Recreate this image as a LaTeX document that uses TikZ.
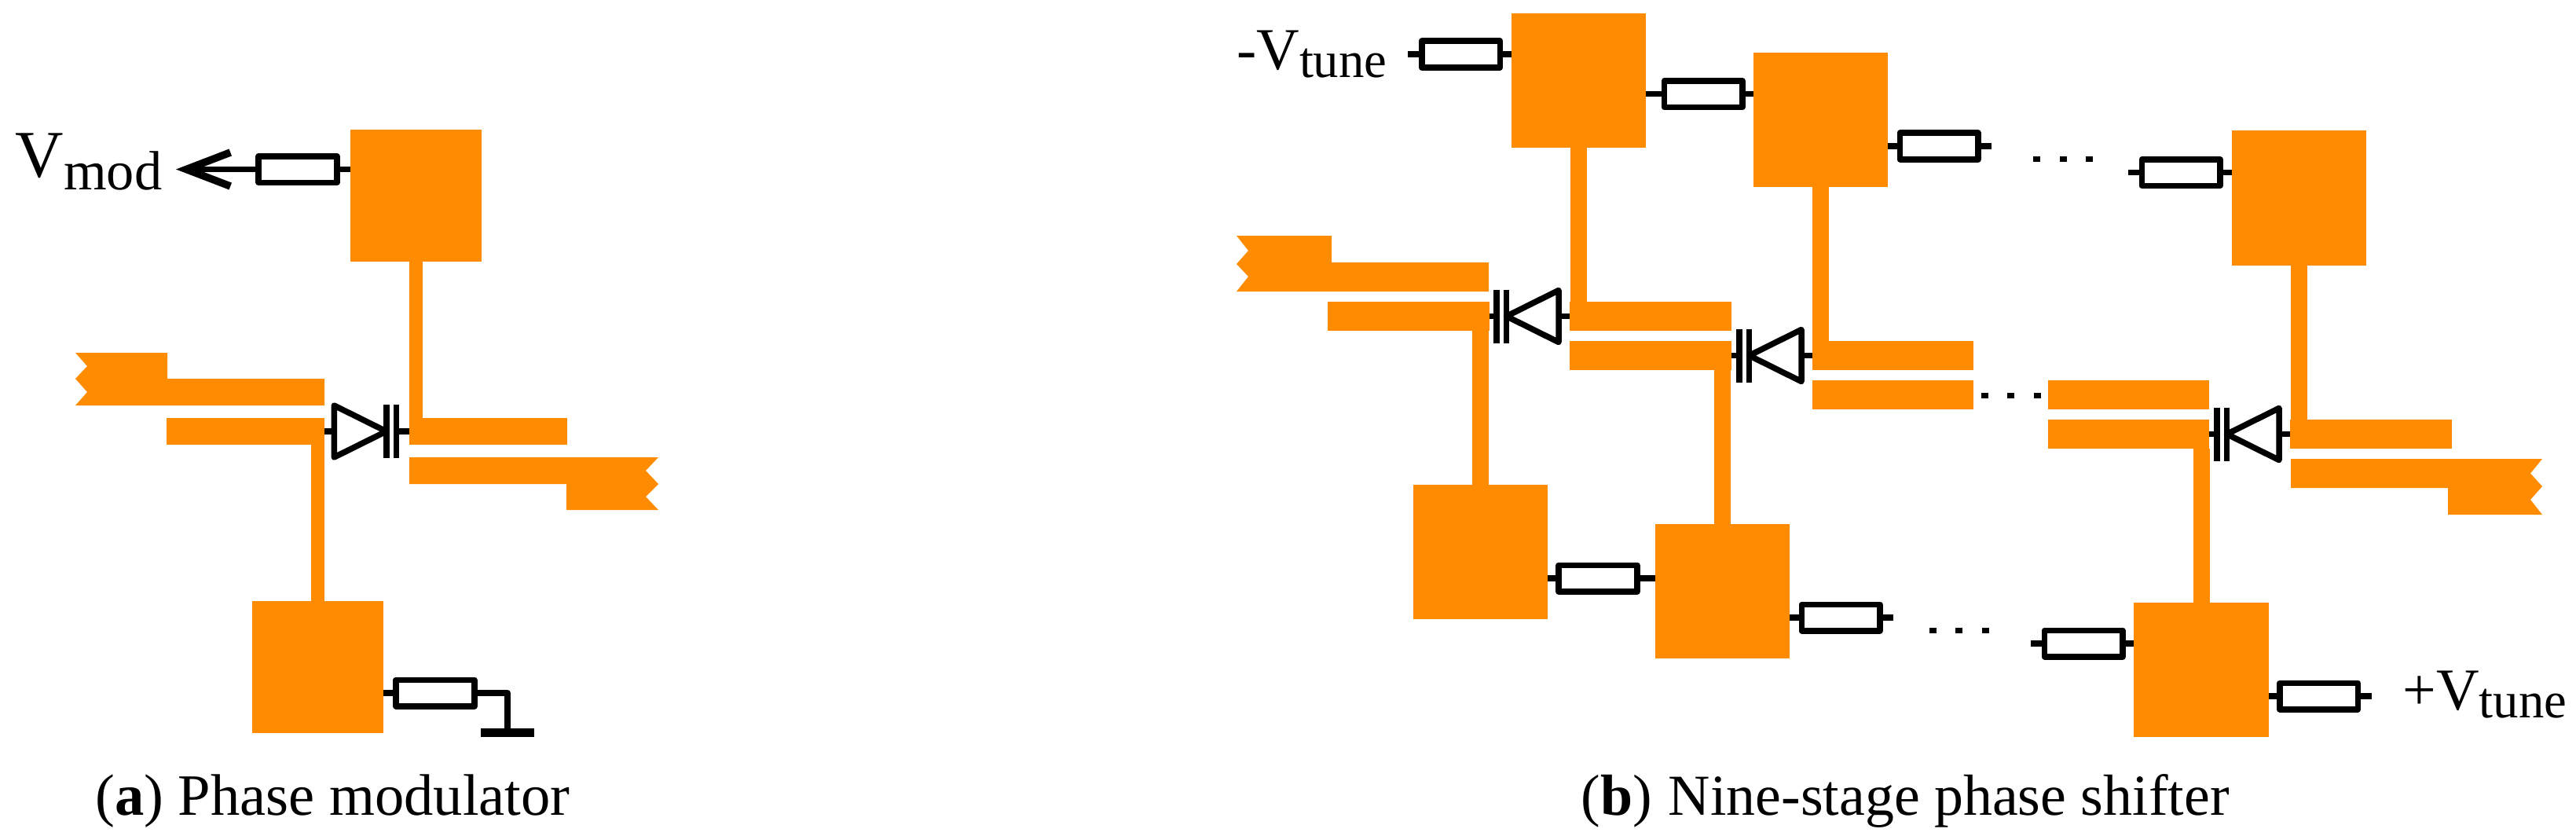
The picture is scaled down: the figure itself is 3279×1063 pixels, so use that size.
\documentclass[tikz,border=0pt]{standalone}
\usepackage{fontspec}
\setmainfont{Liberation Serif}
\usetikzlibrary{arrows.meta,positioning,calc}
\definecolor{padorange}{RGB}{255,140,0}

\tikzset{
    padbase/.style={fill=padorange, inner sep=0pt, outer sep=0pt},
    padsmall/.style={padbase, minimum width=1.67cm, minimum height=1.68cm},
    padlarge/.style={padbase, minimum width=1.71cm, minimum height=1.71cm},
    stripsmall/.style={padbase, minimum width=2.01cm, minimum height=0.34cm},
    striplarge/.style={padbase, minimum width=2.05cm, minimum height=0.37cm},
    stemsmall/.style={draw=padorange, line width=0.17cm},
    stemlarge/.style={draw=padorange, line width=0.21cm},
    wire/.style={draw=black, line width=0.075cm},
    resbox/.style={draw=black, fill=white, line width=0.075cm, line join=round, inner sep=0pt, outer sep=0.0375cm, minimum width=0.995cm, minimum height=0.335cm},
    gndbar/.style={fill=black, inner sep=0pt, outer sep=0pt, minimum width=0.68cm, minimum height=0.11cm},
    biglabel/.style={anchor=base west, inner sep=0pt, font=\fontsize{21.5}{24}\selectfont},
    caption/.style={anchor=base west, inner sep=0pt, font=\fontsize{21.2}{25}\selectfont}
}

% diode: name, x, y, direction (1 = pointing right, -1 = pointing left)
\newcommand{\diode}[4]{
    \begin{scope}[shift={(#2,#3)}, xscale=#4]
        \draw[wire, line join=round] (-39.5,-33) -- (27,0) -- (-39.5,33) -- cycle;
        \draw[wire] (27,-34) -- (27,34);
        \draw[wire] (39.5,-34) -- (39.5,34);
        \coordinate (#1-base) at (-39.5,0);
        \coordinate (#1-plate) at (39.5,0);
    \end{scope}
}
% three dots
\newcommand{\threedots}[2]{
    \foreach \dx in {0,33.5,67} {
        \fill ({#1+\dx-4.5},{#2-3.5}) rectangle +(9,7);
    }
}

\begin{document}
\begin{tikzpicture}[x=0.01cm, y=-0.01cm]
    \path[use as bounding box] (0,0) rectangle (3279,1063);

    % (a) pads and strips
    \node[padsmall] (padA) at (529.5,249) {};
    \node[padsmall] (padB) at (404.5,849) {};
    \node[stripsmall] (stripA) at (621.5,549) {};
    \node[stripsmall] (stripB) at (312.5,549) {};
    \draw[stemsmall] (padA.south) -- (padA.south |- stripA.north);
    \draw[stemsmall] (padB.north) -- (padB.north |- stripB.south);

    % (a) feed lines
    \fill[padorange] (413,482) -- (213,482) -- (213,449) -- (96,449) -- (111,466) -- (96,482) -- (111,499) -- (96,516) -- (413,516) -- cycle;
    \fill[padorange] (521,582) -- (838,582) -- (822,599) -- (838,616) -- (822,632) -- (838,649) -- (721,649) -- (721,616) -- (521,616) -- cycle;

    % (a) diode
    \diode{dioA}{464.75}{549}{1}
    \draw[wire] (stripB.east) -- (dioA-base);
    \draw[wire] (dioA-plate) -- (stripA.west);

    % (a) bias
    \node[resbox] (resA) at (379,215.5) {};
    \node[resbox] (resB) at (554,882) {};
    \node[gndbar] (gnd) at (646,932.5) {};
    \coordinate (vtip) at (224,215.5);
    \draw[wire] (resA.east) -- (resA.east -| padA.west);
    \draw[wire, -{Straight Barb[length=0.56cm, width=0.43cm, line width=0.095cm]}] (resA.west) -- (vtip);
    \draw[wire] (padB.east |- resB.west) -- (resB.west);
    \draw[wire, line join=round] (resB.east) -| (gnd.north);

    \node[biglabel, font=\fontsize{24.2}{26}\selectfont] (vmod) at (19,225) {V\raisebox{-0.16cm}{\fontsize{20}{22}\selectfont mod}};
    \node[caption] (capA) at (121,1037) {(\textbf{a})\hspace{0.18cm}Phase modulator};

    % (b) top pads
    \node[padlarge] (padC) at (2009.5,102.5) {};
    \node[padlarge] (padD) at (2317.5,152.5) {};
    \node[padlarge] (padE) at (2926.5,252) {};
    % (b) bottom pads
    \node[padlarge] (padF) at (1884.5,702.5) {};
    \node[padlarge] (padG) at (2192.5,752.5) {};
    \node[padlarge] (padH) at (2802,852.5) {};

    % (b) strips
    \node[striplarge] (stripC) at (1793,402.5) {};
    \node[striplarge] (stripD) at (2101,402.5) {};
    \node[striplarge] (stripE) at (2101,452.5) {};
    \node[striplarge] (stripF) at (2409.5,452.5) {};
    \node[striplarge] (stripG) at (2409.5,502.5) {};
    \node[striplarge] (stripH) at (2709.5,502.5) {};
    \node[striplarge] (stripI) at (2709.5,552.5) {};
    \node[striplarge] (stripJ) at (3018,552.5) {};

    \draw[stemlarge] (padC.south) -- (padC.south |- stripD.north);
    \draw[stemlarge] (padD.south) -- (padD.south |- stripF.north);
    \draw[stemlarge] (padE.south) -- (padE.south |- stripJ.north);
    \draw[stemlarge] (padF.north) -- (padF.north |- stripC.south);
    \draw[stemlarge] (padG.north) -- (padG.north |- stripE.south);
    \draw[stemlarge] (padH.north) -- (padH.north |- stripI.south);

    % (b) feed lines
    \fill[padorange] (1895,334) -- (1695,334) -- (1695,300) -- (1574,300) -- (1589,319) -- (1574,336) -- (1589,352) -- (1574,371) -- (1895,371) -- cycle;
    \fill[padorange] (2916,584) -- (3236,584) -- (3221,602.5) -- (3236,619) -- (3221,636) -- (3236,655) -- (3116,655) -- (3116,621) -- (2916,621) -- cycle;

    % (b) diodes
    \diode{dioC}{1944.5}{402.5}{-1}
    \diode{dioD}{2253.5}{452.5}{-1}
    \diode{dioE}{2861.5}{552.5}{-1}
    \draw[wire] (stripC.east) -- (dioC-plate);
    \draw[wire] (dioC-base) -- (stripD.west);
    \draw[wire] (stripE.east) -- (dioD-plate);
    \draw[wire] (dioD-base) -- (stripF.west);
    \draw[wire] (stripI.east) -- (dioE-plate);
    \draw[wire] (dioE-base) -- (stripJ.west);

    % (b) top bias chain
    \node[resbox] (resC) at (1859.5,69) {};
    \node[resbox] (resD) at (2168,119.5) {};
    \node[resbox] (resE) at (2468,186) {};
    \node[resbox] (resF) at (2776,219.5) {};
    \coordinate (stubC) at (1792,69);
    \coordinate (stubE) at (2535,186);
    \coordinate (stubF) at (2709,219.5);
    \draw[wire] (stubC) -- (resC.west);
    \draw[wire] (resC.east) -- (resC.east -| padC.west);
    \draw[wire] (padC.east |- resD.west) -- (resD.west);
    \draw[wire] (resD.east) -- (resD.east -| padD.west);
    \draw[wire] (padD.east |- resE.west) -- (resE.west);
    \draw[wire] (resE.east) -- (stubE);
    \draw[wire] (stubF) -- (resF.west);
    \draw[wire] (resF.east) -- (resF.east -| padE.west);

    % (b) bottom bias chain
    \node[resbox] (resG) at (2034,736) {};
    \node[resbox] (resH) at (2343,786) {};
    \node[resbox] (resI) at (2652,819) {};
    \node[resbox] (resJ) at (2951.5,886) {};
    \coordinate (stubH) at (2410,786);
    \coordinate (stubI) at (2585,819);
    \coordinate (stubJ) at (3019,886);
    \draw[wire] (padF.east |- resG.west) -- (resG.west);
    \draw[wire] (resG.east) -- (resG.east -| padG.west);
    \draw[wire] (padG.east |- resH.west) -- (resH.west);
    \draw[wire] (resH.east) -- (stubH);
    \draw[wire] (stubI) -- (resI.west);
    \draw[wire] (resI.east) -- (resI.east -| padH.west);
    \draw[wire] (padH.east |- resJ.west) -- (resJ.west);
    \draw[wire] (resJ.east) -- (stubJ);

    % (b) dots
    \threedots{2592.5}{202.5}
    \threedots{2526}{503}
    \threedots{2460}{802.5}

    % (b) labels
    \node[biglabel] (vneg) at (1573.5,88) {-V\raisebox{-0.1cm}{\fontsize{18.4}{20}\selectfont tune}};
    \node[biglabel] (vpos) at (3058,903) {+V\raisebox{-0.1cm}{\fontsize{18.4}{20}\selectfont tune}};
    \node[caption, font=\fontsize{21}{25}\selectfont] (capB) at (2012,1037) {(\textbf{b})\hspace{0.21cm}Nine-stage phase shifter};
\end{tikzpicture}
\end{document}
